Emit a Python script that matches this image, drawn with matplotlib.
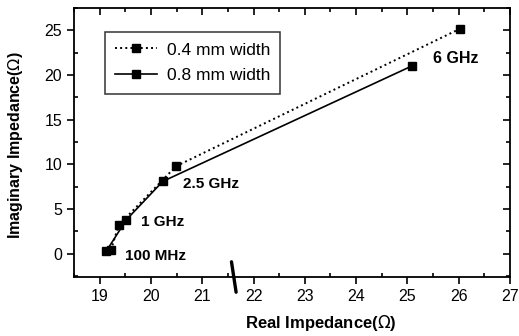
import matplotlib
matplotlib.use('Agg')
import matplotlib.pyplot as plt
from matplotlib.ticker import MultipleLocator

plt.rcParams['font.family'] = ['Liberation Sans', 'DejaVu Sans']

# 0.4 mm width (dotted)
re_04 = [19.22, 19.37, 20.49, 26.03]
im_04 = [0.4, 3.2, 9.8, 25.2]
# 0.8 mm width (solid)
re_08 = [19.13, 19.52, 20.23, 25.08]
im_08 = [0.3, 3.8, 8.1, 21.0]

freq_labels = ['100 MHz', '1 GHz', '2.5 GHz', '6 GHz']
freq_pos = [(19.5, -0.2), (19.81, 3.5), (20.63, 7.8), (25.5, 21.9)]

fig = plt.figure(figsize=(5.19, 3.36), dpi=100)
ax = fig.add_axes([0.1426, 0.1756, 0.8401, 0.8004])

ax.plot(re_04, im_04, color='black', linestyle=':', lw=1.4,
        marker='s', markersize=5.5, label='0.4 mm width')
ax.plot(re_08, im_08, color='black', linestyle='-', lw=1.2,
        marker='s', markersize=5.5, label='0.8 mm width')

for txt, (x, y) in zip(freq_labels, freq_pos):
    ax.text(x, y, txt, fontsize=11.5 if txt == '6 GHz' else 11,
            fontweight='bold', ha='left', va='center')

# axis break mark
ax.plot([21.57, 21.66], [-0.9, -4.3], color='black', lw=2.4, clip_on=False,
        solid_capstyle='round')

ax.set_xlim(18.5, 27)
ax.set_ylim(-2.6, 27.5)
ax.xaxis.set_major_locator(MultipleLocator(1))
ax.xaxis.set_minor_locator(MultipleLocator(0.5))
ax.yaxis.set_major_locator(MultipleLocator(5))
ax.yaxis.set_minor_locator(MultipleLocator(2.5))
ax.tick_params(which='both', top=True, right=True, labelsize=11.5, width=1.2)
ax.tick_params(which='major', length=5, direction='out')
ax.tick_params(which='minor', length=3, direction='in')
# top/right major ticks point inward
for t in ax.xaxis.get_major_ticks():
    t.tick2line.set_marker(3)  # TICKDOWN
for t in ax.yaxis.get_major_ticks():
    t.tick2line.set_marker(0)  # TICKLEFT
for s in ax.spines.values():
    s.set_linewidth(1.3)

ax.set_xlabel('Real Impedance($\\Omega$)', fontsize=12, fontweight='bold')
ax.set_ylabel('Imaginary Impedance($\\Omega$)', fontsize=11.5, fontweight='bold')
ax.xaxis.set_label_coords(0.567, -0.135)
ax.yaxis.set_label_coords(-0.112, 0.49)

leg = ax.legend(loc='upper left', bbox_to_anchor=(0.071, 0.911), fontsize=12.5,
                frameon=True, fancybox=False, edgecolor='black',
                handlelength=2.4, handletextpad=0.55, borderpad=0.6,
                borderaxespad=0, labelspacing=0.6)
leg.get_frame().set_linewidth(1.1)

fig.savefig('out.png', dpi=100)
